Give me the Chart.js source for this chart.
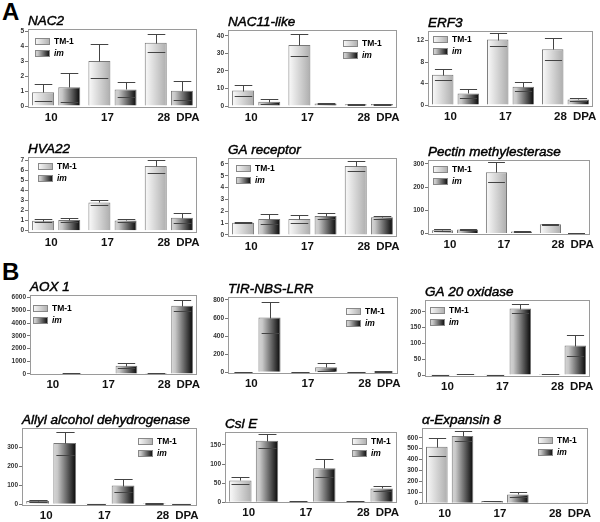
<!DOCTYPE html>
<html><head><meta charset="utf-8">
<script src="https://cdn.jsdelivr.net/npm/chart.js@4/dist/chart.umd.min.js"></script>
<style>
html,body{margin:0;padding:0;background:#fff;width:600px;height:522px;overflow:hidden;position:relative}
canvas{position:absolute}
.lab{position:absolute;font:bold 24px "Liberation Sans",Arial,sans-serif;line-height:1;color:#000}
</style></head><body>
<div class="lab" style="left:2px;top:0px">A</div>
<div class="lab" style="left:2px;top:260px">B</div>
<script>
// ---- data ----
const categories = ['10', '17', '28'];
const axisUnit = 'DPA';
const seriesNames = ['TM-1', 'im'];
const genes = ['NAC2', 'NAC11-like', 'ERF3', 'HVA22', 'GA receptor', 'Pectin methylesterase',
  'AOX 1', 'TIR-NBS-LRR', 'GA 20 oxidase', 'Allyl alcohol dehydrogenase', 'Csl E', 'α-Expansin 8'];

const NAC2_TM1 = [0.93, 3.03, 4.25], NAC2_TM1_SD = [0.57, 1.13, 0.6];
const NAC2_IM = [1.26, 1.12, 1.03], NAC2_IM_SD = [0.98, 0.48, 0.64];
const NAC2_YTICKS = [0, 1, 2, 3, 4, 5];

const NAC11_TM1 = [8.8, 34.9, 1.0], NAC11_TM1_SD = [3.0, 6.3, 0.2];
const NAC11_IM = [2.5, 1.5, 1.1], NAC11_IM_SD = [1.3, 0.4, 0.3];
const NAC11_YTICKS = [0, 10, 20, 30, 40];

const ERF3_TM1 = [5.65, 12.2, 10.4], ERF3_TM1_SD = [1.0, 1.15, 2.1];
const ERF3_IM = [2.17, 3.4, 1.05], ERF3_IM_SD = [0.8, 0.8, 0.3];
const ERF3_YTICKS = [0, 4, 8, 12];

const HVA22_TM1 = [0.99, 2.8, 6.4], HVA22_TM1_SD = [0.12, 0.22, 0.65];
const HVA22_IM = [1.05, 1.02, 1.29], HVA22_IM_SD = [0.17, 0.12, 0.5];
const HVA22_YTICKS = [0, 1, 2, 3, 4, 5, 6, 7];

const GAR_TM1 = [1.04, 1.35, 5.83], GAR_TM1_SD = [0.06, 0.3, 0.42];
const GAR_IM = [1.35, 1.6, 1.49], GAR_IM_SD = [0.45, 0.25, 0.15];
const GAR_YTICKS = [0, 1, 2, 3, 4, 5, 6];

const PME_TM1 = [14, 264, 39], PME_TM1_SD = [4, 44, 3];
const PME_IM = [17, 8, 2], PME_IM_SD = [3, 2, 0.5];
const PME_YTICKS = [0, 100, 200, 300];

const AOX_TM1 = [30, 30, 80], AOX_TM1_SD = [5, 5, 10];
const AOX_IM = [60, 655, 5370], AOX_IM_SD = [10, 180, 450];
const AOX_YTICKS = [0, 1000, 2000, 3000, 4000, 5000, 6000];

const TIR_TM1 = [5, 5, 3], TIR_TM1_SD = [1, 1, 1];
const TIR_IM = [605, 55, 8], TIR_IM_SD = [170, 45, 3];
const TIR_YTICKS = [0, 200, 400, 600, 800];

const GA20_TM1 = [1, 1, 3], GA20_TM1_SD = [0.3, 0.3, 0.5];
const GA20_IM = [2, 210, 93], GA20_IM_SD = [0.4, 13, 32];
const GA20_YTICKS = [0, 50, 100, 150, 200];

const AAD_TM1 = [17, 2, 6], AAD_TM1_SD = [4, 0.5, 2];
const AAD_IM = [321, 98, 2], AAD_IM_SD = [60, 32, 0.5];
const AAD_YTICKS = [0, 100, 200, 300];

const CSLE_TM1 = [57, 2, 2], CSLE_TM1_SD = [9, 0.5, 0.5];
const CSLE_IM = [161, 89, 36], CSLE_IM_SD = [18, 24, 6];
const CSLE_YTICKS = [0, 50, 100, 150];

const EXP_TM1 = [518, 21, 2], EXP_TM1_SD = [82, 3, 0.5];
const EXP_IM = [616, 82, 3], EXP_IM_SD = [45, 20, 0.5];
const EXP_YTICKS = [0, 100, 200, 300, 400, 500, 600];

// ---- layout (box = plot frame in page px; yr = axis range; leg = legend anchor) ----
const panels = [
  {tm: NAC2_TM1, tmE: NAC2_TM1_SD, im: NAC2_IM, imE: NAC2_IM_SD, ticks: NAC2_YTICKS, box: [28, 29, 197, 108], yr: [-0.13, 5.18], leg: ['l', 7, 9]},
  {tm: NAC11_TM1, tmE: NAC11_TM1_SD, im: NAC11_IM, imE: NAC11_IM_SD, ticks: NAC11_YTICKS, box: [228, 30, 397, 108], yr: [-1.14, 43.4], leg: ['r', 54, 10]},
  {tm: ERF3_TM1, tmE: ERF3_TM1_SD, im: ERF3_IM, imE: ERF3_IM_SD, ticks: ERF3_YTICKS, box: [428, 31, 593, 107], yr: [-0.37, 13.8], leg: ['l', 5, 5]},
  {tm: HVA22_TM1, tmE: HVA22_TM1_SD, im: HVA22_IM, imE: HVA22_IM_SD, ticks: HVA22_YTICKS, box: [28, 157, 197, 233], yr: [-0.23, 7.3], leg: ['l', 10, 6]},
  {tm: GAR_TM1, tmE: GAR_TM1_SD, im: GAR_IM, imE: GAR_IM_SD, ticks: GAR_YTICKS, box: [228, 158, 397, 237], yr: [-0.17, 6.5], leg: ['l', 8, 7]},
  {tm: PME_TM1, tmE: PME_TM1_SD, im: PME_IM, imE: PME_IM_SD, ticks: PME_YTICKS, box: [428, 160, 590, 235], yr: [-7, 317], leg: ['l', 5, 6]},
  {tm: AOX_TM1, tmE: AOX_TM1_SD, im: AOX_IM, imE: AOX_IM_SD, ticks: AOX_YTICKS, box: [30, 295, 197, 375], yr: [-79, 6212], leg: ['l', 3, 10]},
  {tm: TIR_TM1, tmE: TIR_TM1_SD, im: TIR_IM, imE: TIR_IM_SD, ticks: TIR_YTICKS, box: [228, 297, 398, 374], yr: [-19, 833], leg: ['r', 52, 11]},
  {tm: GA20_TM1, tmE: GA20_TM1_SD, im: GA20_IM, imE: GA20_IM_SD, ticks: GA20_YTICKS, box: [425, 300, 590, 377], yr: [-6.3, 237], leg: ['l', 5, 7]},
  {tm: AAD_TM1, tmE: AAD_TM1_SD, im: AAD_IM, imE: AAD_IM_SD, ticks: AAD_YTICKS, box: [22, 428, 197, 506], yr: [-9, 400], leg: ['r', 59, 10]},
  {tm: CSLE_TM1, tmE: CSLE_TM1_SD, im: CSLE_IM, imE: CSLE_IM_SD, ticks: CSLE_YTICKS, box: [225, 432, 397, 503], yr: [-2, 184], leg: ['r', 45, 6]},
  {tm: EXP_TM1, tmE: EXP_TM1_SD, im: EXP_IM, imE: EXP_IM_SD, ticks: EXP_YTICKS, box: [422, 428, 588, 504], yr: [-6, 689], leg: ['r', 50, 9]}
];

const FONT = '"Liberation Sans", Arial, sans-serif';
const YW = 26, PT = 24, PR = 34, XH = 20;

function grad(ctx, x0, x1, s) {
  const g = ctx.createLinearGradient(x0, 0, x1, 0);
  if (s === 0) { g.addColorStop(0, '#fbfbfb'); g.addColorStop(1, '#adadad'); }
  else { g.addColorStop(0, '#d6d6d6'); g.addColorStop(0.18, '#c8c8c8'); g.addColorStop(1, '#050505'); }
  return g;
}

const deco = {
  id: 'deco',
  beforeDatasetsDraw(chart) {
    chart.data.datasets.forEach((ds, di) => {
      chart.getDatasetMeta(di).data.forEach(el => {
        const l = el.x - el.width / 2, r = el.x + el.width / 2;
        el.options = Object.assign({}, el.options, {backgroundColor: grad(chart.ctx, l, r, di)});
      });
    });
  },
  afterDatasetsDraw(chart) {
    const ctx = chart.ctx, y = chart.scales.y;
    ctx.save();
    ctx.strokeStyle = '#444'; ctx.lineWidth = 1;
    chart.data.datasets.forEach((ds, di) => {
      chart.getDatasetMeta(di).data.forEach((el, i) => {
        const v = ds.data[i], e = ds.err[i];
        const yv = Math.round(y.getPixelForValue(v)) + 0.5;
        const yt = Math.round(y.getPixelForValue(v + e)) + 0.5;
        const yb = Math.round(y.getPixelForValue(Math.max(v - e, y.min))) + 0.5;
        const hw = el.width * 0.4, x = Math.round(el.x) + 0.5;
        ctx.beginPath();
        ctx.moveTo(x, yt); ctx.lineTo(x, yv);
        ctx.moveTo(x - hw, yt); ctx.lineTo(x + hw, yt);
        ctx.moveTo(x - hw, yb); ctx.lineTo(x + hw, yb);
        ctx.stroke();
      });
    });
    ctx.restore();
  },
  afterDraw(chart) {
    const ctx = chart.ctx, a = chart.chartArea, o = chart.options.plugins.deco;
    ctx.save();
    // frame
    ctx.strokeStyle = '#9a9a9a'; ctx.lineWidth = 1;
    ctx.strokeRect(Math.round(a.left) + 0.5, Math.round(a.top) + 0.5, Math.round(a.right - a.left) - 1, Math.round(a.bottom - a.top) - 1);
    // title
    ctx.fillStyle = '#000'; ctx.strokeStyle = '#000'; ctx.lineWidth = 0.45;
    ctx.font = 'italic 13.5px ' + FONT;
    ctx.textAlign = 'left'; ctx.textBaseline = 'alphabetic';
    ctx.fillText(o.title, a.left, a.top - 4);
    ctx.strokeText(o.title, a.left, a.top - 4);
    // DPA after last tick label
    const xs = chart.scales.x;
    ctx.font = 'bold 11.5px ' + FONT;
    const lastX = xs.getPixelForTick(categories.length - 1) - 5;
    const w = ctx.measureText(categories[categories.length - 1]).width;
    ctx.fillStyle = '#111'; ctx.textBaseline = 'middle';
    ctx.fillText(axisUnit, lastX + w / 2 + 6, a.bottom + 3 + 6.5);
    // legend
    const sw = 15, sh = 7;
    const lx = o.leg[0] === 'l' ? a.left + o.leg[1] : a.right - o.leg[1];
    const ly = a.top + o.leg[2];
    seriesNames.forEach((nm, k) => {
      const yy = ly + k * 12;
      ctx.fillStyle = grad(ctx, lx, lx + sw, k);
      ctx.fillRect(lx, yy, sw, sh);
      ctx.strokeStyle = '#888'; ctx.lineWidth = 1;
      ctx.strokeRect(lx + 0.5, yy + 0.5, sw - 1, sh - 1);
      ctx.fillStyle = '#000';
      ctx.font = (k === 1 ? 'italic ' : '') + 'bold 8.5px ' + FONT;
      ctx.textBaseline = 'middle';
      ctx.fillText(nm, lx + sw + 4, yy + sh / 2 + 0.5);
    });
    ctx.restore();
  }
};

panels.forEach((p, idx) => {
  const [l, t, r, b] = p.box;
  const cv = document.createElement('canvas');
  const W = YW + (r - l) + PR, H = PT + (b - t) + XH;
  cv.width = W; cv.height = H;
  cv.style.left = (l - YW) + 'px'; cv.style.top = (t - PT) + 'px';
  cv.style.width = W + 'px'; cv.style.height = H + 'px';
  document.body.appendChild(cv);
  const common = {borderColor: '#777', borderWidth: 1, categoryPercentage: 0.93, barPercentage: 0.84,
    backgroundColor: () => '#cccccc'};
  new Chart(cv, {
    type: 'bar',
    data: {
      labels: categories,
      datasets: [
        Object.assign({label: seriesNames[0], data: p.tm, err: p.tmE}, common),
        Object.assign({label: seriesNames[1], data: p.im, err: p.imE}, common)
      ]
    },
    options: {
      responsive: false, animation: false, devicePixelRatio: 1,
      layout: {padding: {top: PT, right: PR, left: 0, bottom: 0}, autoPadding: false},
      plugins: {legend: {display: false}, tooltip: {enabled: false}, title: {display: false},
        deco: {title: genes[idx], leg: p.leg}},
      scales: {
        x: {type: 'category', offset: true,
          grid: {display: false, drawTicks: false}, border: {display: false},
          ticks: {font: {family: FONT, size: 11.5, weight: 'bold'}, color: '#111', padding: 3,
            labelOffset: -5, maxRotation: 0, autoSkip: false},
          afterFit: s => { s.height = XH; }},
        y: {min: p.yr[0], max: p.yr[1],
          grid: {drawOnChartArea: false, drawTicks: true, tickLength: 3, color: '#777'},
          border: {display: false},
          ticks: {font: {family: FONT, size: 6.5, weight: 'bold'}, color: '#333', padding: 1,
            callback: v => String(v)},
          afterBuildTicks: s => { s.ticks = p.ticks.map(v => ({value: v})); },
          afterFit: s => { s.width = YW; }}
      }
    },
    plugins: [deco]
  });
});
</script>
</body></html>
